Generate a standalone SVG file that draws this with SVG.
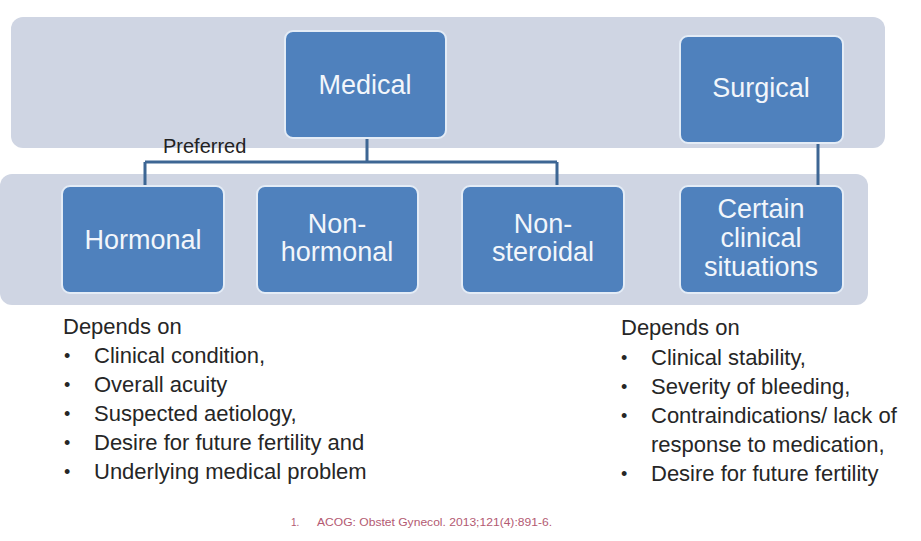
<svg xmlns="http://www.w3.org/2000/svg" width="921" height="541" viewBox="0 0 921 541">
<style>
.band{fill:#cfd5e3}
.box{fill:#4f81bd;stroke:#e4ecf6;stroke-width:2}
.bt{font-family:"Liberation Sans",Arial,sans-serif;font-size:27px;fill:#f2f6fb;text-anchor:middle}
.lt{font-family:"Liberation Sans",Arial,sans-serif;font-size:22px;fill:#262626}
.bu{font-family:"Liberation Sans",Arial,sans-serif;font-size:18px;fill:#262626}
.conn{fill:none;stroke:#3d6694;stroke-width:3}
</style>
<rect width="921" height="541" fill="#ffffff"/>
<rect class="band" x="11" y="17" width="874" height="131" rx="12"/>
<rect class="band" x="0" y="174" width="868" height="131" rx="12"/>
<g id="connectors">
<path class="conn" d="M367 138 V162 M145 162 H557 M145 162 V187 M557 162 V187"/>
<path class="conn" d="M818 143 V187"/>
</g>
<g id="medical"><rect class="box" x="285" y="31" width="161" height="107" rx="8"/><text class="bt" x="365" y="94">Medical</text></g>
<g id="surgical"><rect class="box" x="680" y="36" width="163" height="107" rx="8"/><text class="bt" x="761" y="97">Surgical</text></g>
<g id="hormonal"><rect class="box" x="62" y="186" width="162" height="107" rx="8"/><text class="bt" x="143" y="249">Hormonal</text></g>
<g id="nonhormonal"><rect class="box" x="257" y="186" width="161" height="107" rx="8"/><text class="bt" x="337" y="233">Non-</text><text class="bt" x="337" y="261">hormonal</text></g>
<g id="nonsteroidal"><rect class="box" x="462" y="186" width="162" height="107" rx="8"/><text class="bt" x="543" y="233">Non-</text><text class="bt" x="543" y="261">steroidal</text></g>
<g id="certain"><rect class="box" x="680" y="186" width="163" height="107" rx="8"/><text class="bt" x="761" y="218">Certain</text><text class="bt" x="761" y="247">clinical</text><text class="bt" x="761" y="276">situations</text></g>
<text id="preferred" x="163" y="153" font-family="'Liberation Sans',Arial,sans-serif" font-size="20" fill="#222">Preferred</text>
<g id="left-list">
<text class="lt" x="63" y="334">Depends on</text>
<text class="bu" x="64" y="362">•</text><text class="lt" x="94" y="363">Clinical condition,</text>
<text class="bu" x="64" y="391">•</text><text class="lt" x="94" y="392">Overall acuity</text>
<text class="bu" x="64" y="420">•</text><text class="lt" x="94" y="421">Suspected aetiology,</text>
<text class="bu" x="64" y="449">•</text><text class="lt" x="94" y="450">Desire for future fertility and</text>
<text class="bu" x="64" y="478">•</text><text class="lt" x="94" y="479">Underlying medical problem</text>
</g>
<g id="right-list">
<text class="lt" x="621" y="335">Depends on</text>
<text class="bu" x="621" y="364">•</text><text class="lt" x="651" y="365">Clinical stability,</text>
<text class="bu" x="621" y="393">•</text><text class="lt" x="651" y="394">Severity of bleeding,</text>
<text class="bu" x="621" y="422">•</text><text class="lt" x="651" y="423">Contraindications/ lack of</text>
<text class="lt" x="651" y="452">response to medication,</text>
<text class="bu" x="621" y="480">•</text><text class="lt" x="651" y="481">Desire for future fertility</text>
</g>
<g id="reference" font-family="'Liberation Sans',Arial,sans-serif" font-size="10" fill="#b35a72">
<text x="291" y="526">1.</text>
<text x="317" y="526" textLength="235" lengthAdjust="spacingAndGlyphs">ACOG: Obstet Gynecol. 2013;121(4):891-6.</text>
</g>
</svg>
